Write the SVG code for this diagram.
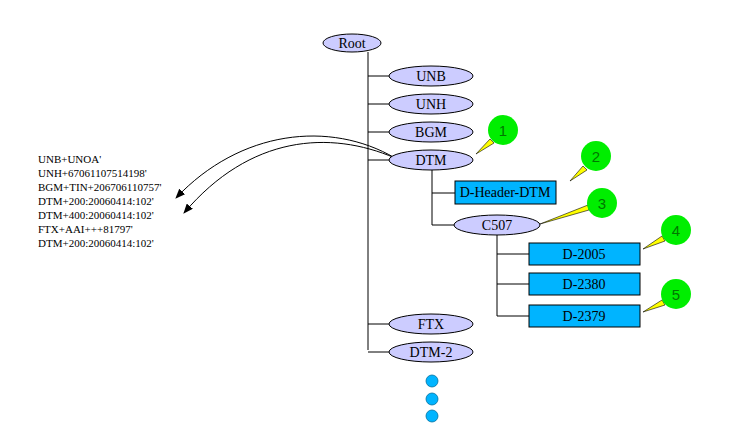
<svg xmlns="http://www.w3.org/2000/svg" width="750" height="440" viewBox="0 0 750 440">
<defs>
<style>
.e{fill:#ccccff;stroke:#000;stroke-width:1}
.r{fill:#00b4ff;stroke:#000;stroke-width:1}
.t{font-family:"Liberation Serif",serif;font-size:14px;fill:#000;text-anchor:middle}
.s{font-family:"Liberation Serif",serif;font-size:11px;fill:#000}
.c{fill:#00ee00}
.n{font-family:"Liberation Sans",sans-serif;font-size:15px;fill:#007700;text-anchor:middle}
.l{stroke:#000;stroke-width:1;fill:none}
.tail{fill:#ffff00;stroke:#000;stroke-width:0.6}
.d{fill:#00b4ff;stroke:#0070a0;stroke-width:0.8}
</style>
<marker id="a" markerWidth="10" markerHeight="8" refX="9" refY="4" orient="auto" markerUnits="userSpaceOnUse" viewBox="0 0 10 8"><path d="M0,0L10,4L0,8z" fill="#000"/></marker>
</defs>
<rect width="750" height="440" fill="#fff"/>
<g id="connectors">
<path class="l" d="M368,52V350M368,76H389M368,104H389M368,132H389M368,160H389M368,324H389M368,352H389"/>
<path class="l" d="M432,170V225H454M432,193H455"/>
<path class="l" d="M497,235V316H529M497,254H529M497,284H529"/>
<path class="l" d="M395,158C330,120 240,130 176,198" marker-end="url(#a)"/>
<path class="l" d="M395,158C330,130 250,135 184,213" marker-end="url(#a)"/>
</g>
<g id="text-block">
<text class="s" x="38" y="163">UNB+UNOA'</text>
<text class="s" x="38" y="177">UNH+67061107514198'</text>
<text class="s" x="38" y="191">BGM+TIN+206706110757'</text>
<text class="s" x="38" y="205">DTM+200:20060414:102'</text>
<text class="s" x="38" y="219">DTM+400:20060414:102'</text>
<text class="s" x="38" y="233">FTX+AAI+++81797'</text>
<text class="s" x="38" y="247">DTM+200:20060414:102'</text>
</g>
<g id="root"><ellipse class="e" cx="352" cy="43" rx="29" ry="9"/><text class="t" x="352" y="48">Root</text></g>
<g id="unb"><ellipse class="e" cx="431" cy="76" rx="42" ry="10"/><text class="t" x="431" y="81">UNB</text></g>
<g id="unh"><ellipse class="e" cx="431" cy="104" rx="42" ry="10"/><text class="t" x="431" y="109">UNH</text></g>
<g id="bgm"><ellipse class="e" cx="431" cy="132" rx="42" ry="10"/><text class="t" x="431" y="137">BGM</text></g>
<g id="dtm"><ellipse class="e" cx="431" cy="160" rx="42" ry="10"/><text class="t" x="431" y="165">DTM</text></g>
<g id="ftx"><ellipse class="e" cx="431" cy="324" rx="42" ry="10"/><text class="t" x="431" y="329">FTX</text></g>
<g id="dtm2"><ellipse class="e" cx="431" cy="352" rx="42" ry="10"/><text class="t" x="431" y="357">DTM-2</text></g>
<g id="dheader"><rect class="r" x="455" y="181" width="101" height="23"/><text class="t" x="505" y="197">D-Header-DTM</text></g>
<g id="c507"><ellipse class="e" cx="497" cy="225" rx="43" ry="10"/><text class="t" x="497" y="230">C507</text></g>
<g id="d2005"><rect class="r" x="529" y="243" width="111" height="22"/><text class="t" x="584" y="259">D-2005</text></g>
<g id="d2380"><rect class="r" x="529" y="273" width="111" height="22"/><text class="t" x="584" y="289">D-2380</text></g>
<g id="d2379"><rect class="r" x="529" y="305" width="111" height="22"/><text class="t" x="584" y="321">D-2379</text></g>
<g id="callout1"><path class="tail" d="M476,154L490,139L494,143z"/><circle class="c" cx="503" cy="130" r="15"/><text class="n" x="503" y="136">1</text></g>
<g id="callout2"><path class="tail" d="M570,181L583,166L587,170z"/><circle class="c" cx="596" cy="156" r="15"/><text class="n" x="596" y="162">2</text></g>
<g id="callout3"><path class="tail" d="M540,224L588,205L589,210z"/><circle class="c" cx="602" cy="203" r="15"/><text class="n" x="602" y="209">3</text></g>
<g id="callout4"><path class="tail" d="M643,249L662,236L665,241z"/><circle class="c" cx="676" cy="230" r="15"/><text class="n" x="676" y="236">4</text></g>
<g id="callout5"><path class="tail" d="M643,312L662,300L665,305z"/><circle class="c" cx="676" cy="294" r="15"/><text class="n" x="676" y="300">5</text></g>
<g id="dots"><circle class="d" cx="432" cy="381" r="6"/><circle class="d" cx="432" cy="399" r="6"/><circle class="d" cx="432" cy="416" r="6"/></g>
</svg>
